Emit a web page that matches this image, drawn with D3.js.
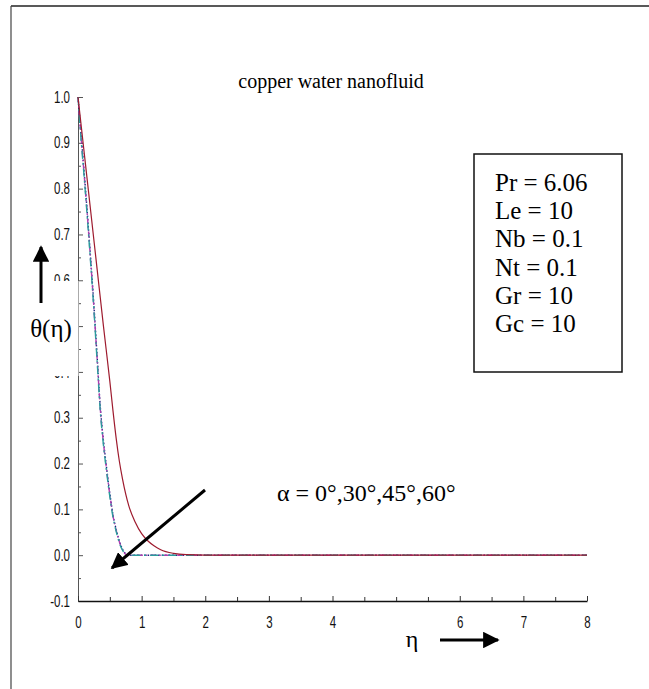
<!DOCTYPE html>
<html>
<head>
<meta charset="utf-8">
<script src="https://cdn.jsdelivr.net/npm/d3@7"></script>
<style>
  body { margin: 0; background: #fff; }
  svg { display: block; }
</style>
</head>
<body>
<svg id="chart"></svg>
<script>
// eta values sampled along the curves
let etaFast = [0, 0.05, 0.1, 0.15, 0.2, 0.25, 0.3, 0.35, 0.4, 0.45, 0.5, 0.55, 0.6, 0.65, 0.7, 0.75, 0.8, 1, 2, 4, 6, 8]
let alpha30 = [1, 0.915, 0.83, 0.74, 0.645, 0.545, 0.435, 0.325, 0.25, 0.19, 0.135, 0.088, 0.056, 0.031, 0.013, 0.003, 0, 0, 0, 0, 0, 0]
let alpha45 = [1, 0.91, 0.825, 0.735, 0.64, 0.54, 0.43, 0.32, 0.245, 0.186, 0.132, 0.086, 0.054, 0.029, 0.012, 0.002, 0, 0, 0, 0, 0, 0]
let alpha60 = [1, 0.905, 0.82, 0.73, 0.635, 0.535, 0.425, 0.315, 0.24, 0.182, 0.128, 0.083, 0.052, 0.027, 0.011, 0.002, 0, 0, 0, 0, 0, 0]

let etaSlow = [0, 0.1, 0.2, 0.3, 0.4, 0.5, 0.55, 0.6, 0.65, 0.7, 0.8, 0.9, 1.0, 1.1, 1.2, 1.3, 1.5, 1.7, 2.0, 3, 4, 6, 8]
let alpha0 = [1, 0.875, 0.75, 0.625, 0.5, 0.38, 0.315, 0.255, 0.205, 0.166, 0.107, 0.072, 0.047, 0.031, 0.02, 0.012, 0.004, 0.001, 0, 0, 0, 0, 0]

let xTicks = [0, 1, 2, 3, 4, 6, 7, 8]
let yTicks = [-0.1, 0.0, 0.1, 0.2, 0.3, 0.4, 0.5, 0.6, 0.7, 0.8, 0.9, 1.0]
let params = ['Pr = 6.06', 'Le = 10', 'Nb = 0.1', 'Nt = 0.1', 'Gr = 10', 'Gc = 10']

let width = 649
let height = 689

let svg = d3.select('#chart').attr('width', width).attr('height', height)

let xScale = d3.scaleLinear().domain([0, 8]).range([78, 587])
let yScale = d3.scaleLinear().domain([-0.1, 1.0]).range([601, 97])

let narrow = '"Liberation Sans Narrow", "Arial Narrow", "Liberation Sans", sans-serif'
let serif = '"Liberation Serif", "Times New Roman", serif'

// squeeze tick labels horizontally, like a narrow face
let squeeze = (sel) => {
  sel.each(function () {
    let t = d3.select(this)
    let x = +t.attr('x') || 0
    let y = +t.attr('y') || 0
    t.attr('transform', `translate(${x},${y}) scale(0.72,1) translate(${-x},${-y})`)
  })
}

// page frame
svg.append('line').attr('x1', 11).attr('y1', 6).attr('x2', 649).attr('y2', 6)
  .attr('stroke', '#222').attr('stroke-width', 1.5)
svg.append('line').attr('x1', 11).attr('y1', 6).attr('x2', 11).attr('y2', 689)
  .attr('stroke', '#444').attr('stroke-width', 1.2)

// axes (0.5 label sits under the axis-title patch)
let yFmt = d => Math.abs(d - 0.5) < 1e-9 ? '' : d3.format('.1f')(d).replace('−', '-')
let yAxis = svg.append('g').attr('transform', 'translate(78,0)')
  .call(d3.axisLeft(yScale).tickValues(yTicks).tickFormat(yFmt)
    .tickSizeInner(-5).tickSizeOuter(0).tickPadding(8))
yAxis.select('.domain').attr('stroke', '#555')
yAxis.selectAll('.tick line').attr('stroke', '#555')
yAxis.selectAll('text').attr('font-family', narrow).attr('font-size', 16).attr('fill', '#111')
  .attr('x', -8).call(squeeze)

let yMinor = svg.append('g').attr('transform', 'translate(78,0)')
  .call(d3.axisLeft(yScale).tickValues(d3.range(-0.05, 1.0, 0.1)).tickFormat('')
    .tickSizeInner(-3).tickSizeOuter(0))
yMinor.select('.domain').remove()
yMinor.selectAll('.tick line').attr('stroke', '#555')

let xAxis = svg.append('g').attr('transform', 'translate(0,601)')
  .call(d3.axisBottom(xScale).tickValues(xTicks).tickFormat(d3.format('d'))
    .tickSizeInner(-5).tickSizeOuter(0).tickPadding(16))
xAxis.select('.domain').attr('stroke', '#111').attr('stroke-width', 1.5)
xAxis.selectAll('.tick line').attr('stroke', '#333')
xAxis.selectAll('text').attr('font-family', narrow).attr('font-size', 16).attr('fill', '#111')
  .attr('x', 0).call(squeeze)

let xMinor = svg.append('g').attr('transform', 'translate(0,601)')
  .call(d3.axisBottom(xScale).tickValues([0.5, 1.5, 2.5, 3.5, 4.5, 5, 5.5, 6.5, 7.5]).tickFormat('')
    .tickSizeInner(-4).tickSizeOuter(0))
xMinor.select('.domain').remove()
xMinor.selectAll('.tick line').attr('stroke', '#333')

// curves
let line = d3.line().x(d => xScale(d[0])).y(d => yScale(d[1])).curve(d3.curveMonotoneX)

let drawCurve = (xs, ys, color, dash, w) => {
  svg.append('path')
    .datum(xs.map((x, i) => [x, ys[i]]))
    .attr('d', line)
    .attr('fill', 'none')
    .attr('stroke', color)
    .attr('stroke-width', w)
    .attr('stroke-dasharray', dash)
}

drawCurve(etaFast, alpha30, '#1a237e', '1.5,2', 1.4)
drawCurve(etaFast, alpha45, '#b03cb0', '6,3,1.5,3', 1.4)
drawCurve(etaFast, alpha60, '#2a9d9d', '8,4,2,4', 1.4)
drawCurve(etaSlow, alpha0, '#9e1b2e', null, 1.2)

// white patch over part of the y axis, holding the axis label
svg.append('rect').attr('x', 18).attr('y', 281).attr('width', 60.5).attr('height', 95).attr('fill', '#fff')

// arrow marker
svg.append('defs').append('marker')
  .attr('id', 'head').attr('viewBox', '0 0 10 10').attr('refX', 9).attr('refY', 5)
  .attr('markerWidth', 5.5).attr('markerHeight', 5.5).attr('markerUnits', 'strokeWidth')
  .attr('orient', 'auto')
  .append('path').attr('d', 'M0,0 L10,5 L0,10 Z').attr('fill', '#000')

let arrow = (x1, y1, x2, y2) => {
  svg.append('line').attr('x1', x1).attr('y1', y1).attr('x2', x2).attr('y2', y2)
    .attr('stroke', '#000').attr('stroke-width', 3).attr('marker-end', 'url(#head)')
}

arrow(41, 303, 41, 247)
arrow(440, 640, 498, 640)
arrow(205, 490, 112, 568)

// texts
svg.append('text').attr('x', 331).attr('y', 88).attr('text-anchor', 'middle')
  .attr('font-family', serif).attr('font-size', 20).text('copper water nanofluid')

svg.append('text').attr('x', 51).attr('y', 337).attr('text-anchor', 'middle')
  .attr('font-family', serif).attr('font-size', 25).text('θ(η)')

svg.append('text').attr('x', 412).attr('y', 647).attr('text-anchor', 'middle')
  .attr('font-family', serif).attr('font-size', 24).text('η')

svg.append('text').attr('x', 277).attr('y', 501)
  .attr('font-family', serif).attr('font-size', 24).text('α = 0°,30°,45°,60°')

// parameter box
svg.append('rect').attr('x', 474).attr('y', 154).attr('width', 148).attr('height', 218)
  .attr('fill', 'none').attr('stroke', '#111').attr('stroke-width', 1.5)

svg.append('g').selectAll('text').data(params).enter().append('text')
  .attr('x', 495).attr('y', (d, i) => 191 + i * 28.2)
  .attr('font-family', serif).attr('font-size', 25)
  .text(d => d)
</script>
</body>
</html>
